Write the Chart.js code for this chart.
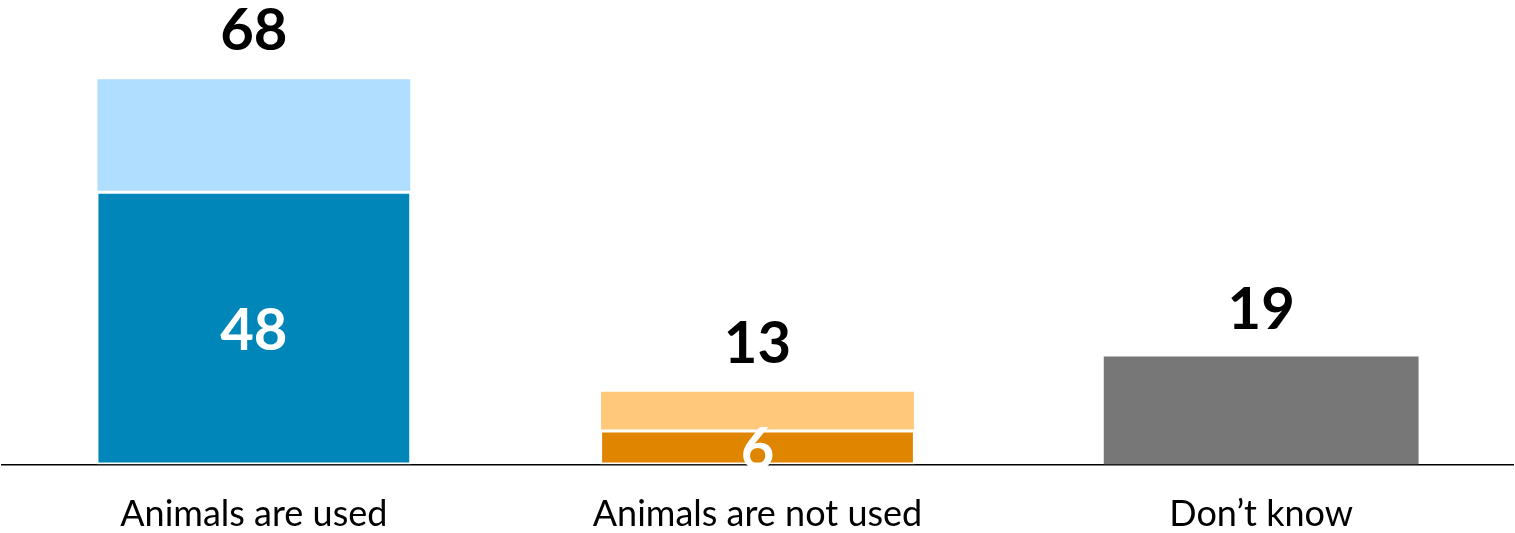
<!DOCTYPE html>
<html>
<head>
<meta charset="utf-8">
<title>Animals used</title>
<script src="https://cdn.jsdelivr.net/npm/chart.js@4/dist/chart.umd.min.js"></script>
<style>
  body { margin: 0; background: #ffffff; }
  #wrap { width: 1515px; height: 533px; }
</style>
</head>
<body>
<div id="wrap"><canvas id="chart" width="1515" height="533"></canvas></div>
<script>
// ---- data ----
const categories = ["Animals are used", "Animals are not used", "Don\u2019t know"];
const strongValues = [48, 6, null];   // dark part of each bar
const weakValues   = [20, 7, null];   // light part stacked on top
const unsureValues = [null, null, 19];

// colours per category
const strongColors = ["#0086b8", "#e08500", "#777777"];
const weakColors   = ["#afdeff", "#ffc87a", "#777777"];

// draws the white numbers inside the dark parts and the totals above each bar
const labelPlugin = {
  id: "barLabels",
  afterDatasetsDraw(chart) {
    const ctx = chart.ctx;
    ctx.save();
    ctx.textAlign = "center";
    ctx.textBaseline = "alphabetic";
    ctx.font = "bold 58px Lato";

    // inside labels, centred on the dark part (may spill over the axis line)
    ctx.fillStyle = "#ffffff";
    chart.getDatasetMeta(0).data.forEach((bar, i) => {
      const v = strongValues[i];
      if (v == null) return;
      const mid = (bar.y + bar.base) / 2;
      const h = ctx.measureText(String(v)).actualBoundingBoxAscent;
      ctx.fillText(String(v), bar.x, mid + 1 + h / 2);
    });

    // totals above the stack
    ctx.fillStyle = "#000000";
    categories.forEach((c, i) => {
      let total = 0;
      let topY = null;
      let x = null;
      chart.data.datasets.forEach((ds, d) => {
        const v = ds.data[i];
        if (v == null) return;
        total += v;
        const bar = chart.getDatasetMeta(d).data[i];
        x = bar.x;
        topY = topY == null ? bar.y : Math.min(topY, bar.y);
      });
      if (topY == null) return;
      ctx.fillText(String(total), x, topY - 28);
    });
    ctx.restore();
  }
};

new Chart(document.getElementById("chart"), {
  type: "bar",
  data: {
    labels: categories,
    datasets: [
      {
        label: "Definitely",
        data: strongValues,
        backgroundColor: strongColors,
        borderColor: "#ffffff",
        borderWidth: 2,
        borderSkipped: false
      },
      {
        label: "Probably",
        data: weakValues,
        backgroundColor: weakColors,
        borderColor: "#ffffff",
        borderWidth: 1,
        borderSkipped: false
      },
      {
        label: "Don\u2019t know",
        data: unsureValues,
        backgroundColor: "#777777",
        borderWidth: 0
      }
    ]
  },
  options: {
    responsive: false,
    animation: false,
    devicePixelRatio: 1,
    layout: { padding: { left: 2, right: 2, top: 10, bottom: 0 } },
    datasets: {
      bar: { categoryPercentage: 1, barPercentage: 0.625 }
    },
    plugins: {
      legend: { display: false },
      tooltip: { enabled: false }
    },
    scales: {
      x: {
        stacked: true,
        grid: { display: false, drawTicks: false },
        border: { display: true, color: "#000000", width: 1.5 },
        ticks: {
          color: "#000000",
          padding: 28,
          font: { family: "Lato", size: 36 }
        },
        // keep the axis band the same height as in the original
        afterFit(scale) { scale.height = 68.5; }
      },
      y: {
        stacked: true,
        display: false,
        min: 0,
        max: 80
      }
    }
  },
  plugins: [labelPlugin]
});
</script>
</body>
</html>
